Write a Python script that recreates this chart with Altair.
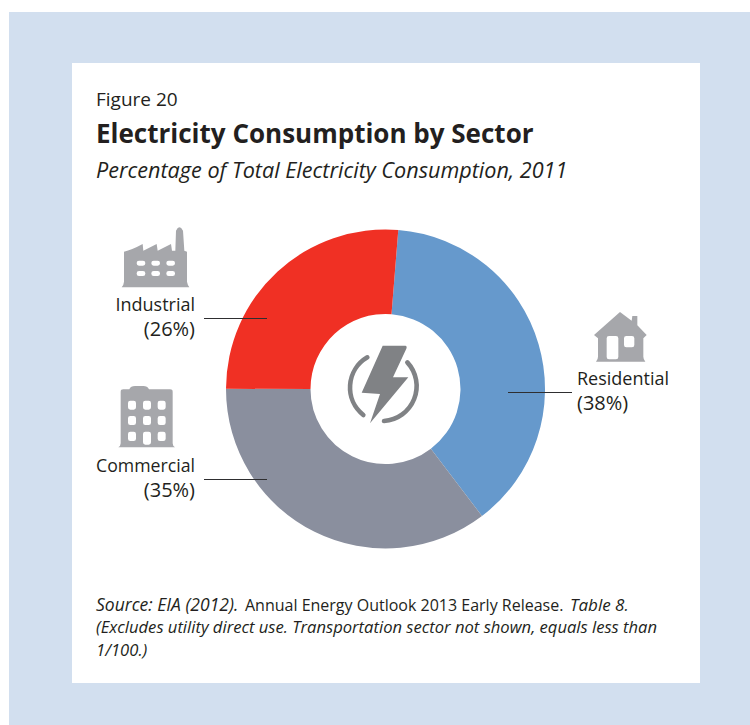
import math
import altair as alt
import pandas as pd

# Sector shares, percent of total electricity consumption in 2011
sectors = ["Residential", "Commercial", "Industrial"]
shares = [38, 35, 26]
sector_colors = ["#6699CC", "#8A8F9E", "#F03024"]

heading = "Figure 20"
title = "Electricity Consumption by Sector"
subtitle = "Percentage of Total Electricity Consumption, 2011"

FONT = "Open Sans"
INK = "#231F20"
ICON = "#A6A7AB"
BOLT = "#808285"


def text(content, x, y, size, align="left", weight="normal", style="normal"):
    return (
        alt.Chart(alt.Data(values=[{"t": content}]))
        .mark_text(align=align, baseline="alphabetic", font=FONT, fontSize=size,
                   fontWeight=weight, fontStyle=style, color=INK)
        .encode(text="t:N", x=alt.value(x), y=alt.value(y))
    )


def panel(x0, x1, y0, y1, color):
    return (
        alt.Chart(alt.Data(values=[{}]))
        .mark_rect(color=color)
        .encode(x=alt.value(x0), x2=alt.value(x1), y=alt.value(y0), y2=alt.value(y1))
    )


def leader(x0, x1, y):
    return (
        alt.Chart(alt.Data(values=[{}]))
        .mark_rule(color="#2E2E30", strokeWidth=1)
        .encode(x=alt.value(x0), x2=alt.value(x1), y=alt.value(y))
    )


def glyph(path, x, y, color, stroked=False):
    # Paths are drawn on a 3x grid: a symbol size of 4/9 maps them back to pixels
    style = dict(filled=False, stroke=color, strokeWidth=4.6, strokeCap="round") if stroked \
        else dict(filled=True, fill=color, strokeWidth=0)
    return (
        alt.Chart(alt.Data(values=[{}]))
        .mark_point(shape=path, size=4 / 9, opacity=1, **style)
        .encode(x=alt.value(x), y=alt.value(y))
    )


def hole(x0, y0, x1, y1, r=7):
    # Rounded cut-out wound against the outline so the window stays empty
    return (
        f"M{x0 + r} {y0} Q{x0} {y0} {x0} {y0 + r} L{x0} {y1 - r} Q{x0} {y1} {x0 + r} {y1} "
        f"L{x1 - r} {y1} Q{x1} {y1} {x1} {y1 - r} L{x1} {y0 + r} Q{x1} {y0} {x1 - r} {y0} Z "
    )


factory = (
    "M95 232 Q101 226 102 215 L102 125 Q125 120 158 102 L160 122 L200 102 L203 122 L243 102 "
    "L246 122 L256 122 L258 62 Q268 42 279 62 L283 122 L291 125 L291 215 Q293 226 298 232 Z "
    + "".join(hole(x, y, x + 26, y + 15) for y in (152, 183) for x in (140, 184, 229))
)
office = (
    "M85 712 Q92 708 92 700 L92 545 Q92 538 100 538 L118 538 Q122 528 135 528 L160 528 "
    "Q172 528 177 538 L240 538 Q248 538 248 545 L248 700 Q248 708 255 712 Z "
    + "".join(hole(x, y, x + 24, y + 27) for y in (572, 618) for x in (114, 159, 203))
    + hole(114, 665, 138, 693) + hole(159, 665, 183, 704) + hole(203, 665, 227, 693)
)
house = (
    "M960 36 L995 62 L997 48 L1012 48 L1012 76 L1040 105 L1030 115 L1030 170 Q1030 178 1036 185 "
    "L888 185 Q894 178 894 170 L894 115 L882 105 Z "
    + hole(920, 108, 955, 178) + hole(972, 108, 1003, 142)
)
bolt = (
    "M248 137 L316 137 Q322 138 319 146 L279 232 L325 232 L210 370 L240 282 L185 278 Z"
)
arc_left = "M202 172 A105 105 0 0 0 190 345"
arc_right = "M322 187 A105 105 0 0 1 252 363"

frame = pd.DataFrame({"sector": sectors, "share": shares, "rank": range(len(sectors))})
start = math.radians(4.6)

donut = (
    alt.Chart(frame)
    .mark_arc(outerRadius=159.5, innerRadius=75, stroke="#FFFFFF", strokeWidth=0)
    .encode(
        x=alt.value(385.5),
        y=alt.value(389),
        theta=alt.Theta("share:Q", stack=True,
                        scale=alt.Scale(domain=[0, sum(shares)], range=[start, start + 2 * math.pi])),
        order=alt.Order("rank:Q"),
        color=alt.Color("sector:N", legend=None,
                        scale=alt.Scale(domain=sectors, range=sector_colors)),
    )
)

chart = alt.layer(
    panel(9, 750, 12, 725, "#D2DFEF"),
    panel(72, 700, 63, 683, "#FFFFFF"),
    text(heading, 96, 106, 19),
    text(title, 96, 143, 26, weight="bold"),
    text(subtitle, 96, 178, 21.6, style="italic"),
    donut,
    glyph(factory, 90, 210, ICON),
    glyph(office, 90, 210, ICON),
    glyph(house, 300, 300, ICON),
    glyph(bolt, 300, 300, BOLT),
    glyph(arc_left, 300, 300, BOLT, stroked=True),
    glyph(arc_right, 300, 300, BOLT, stroked=True),
    leader(204, 267, 318.5),
    leader(204, 267, 479.5),
    leader(508, 572, 392.5),
    text("Industrial", 195, 311, 18, align="right"),
    text("(26%)", 195, 336, 20, align="right"),
    text("Commercial", 195, 472, 17.7, align="right"),
    text("(35%)", 195, 497, 20, align="right"),
    text("Residential", 577, 385, 18),
    text("(38%)", 577, 410, 20),
    text("Source: EIA (2012).", 96, 611, 17.5, style="italic"),
    text("Annual Energy Outlook 2013 Early Release.", 245, 611, 16),
    text("Table 8.", 570, 611, 17, style="italic"),
    text("(Excludes utility direct use. Transportation sector not shown, equals less than", 96, 633, 16.6, style="italic"),
    text("1/100.)", 96, 656, 16.6, style="italic"),
).properties(
    width=750, height=725, padding=0, background="#FFFFFF",
    autosize=alt.AutoSizeParams(type="none"),
).configure_view(stroke=None)

chart.save("out.html", embed_options={"renderer": "svg", "actions": False})
